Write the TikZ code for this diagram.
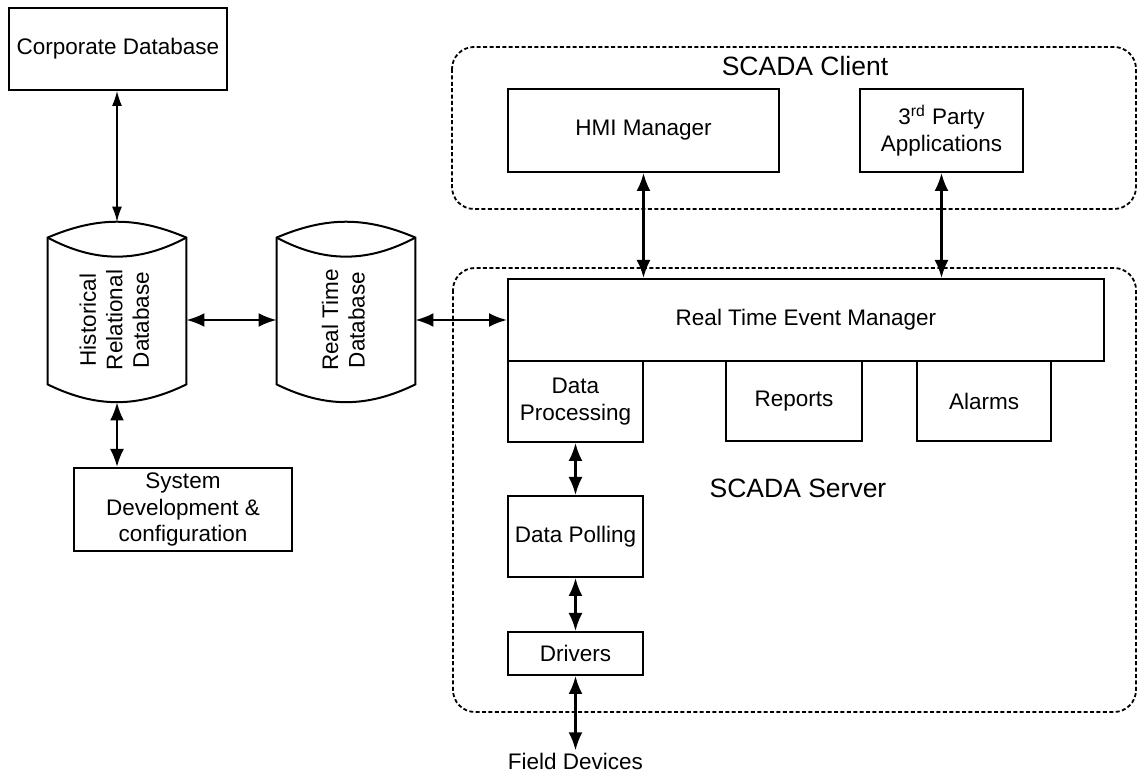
\documentclass[tikz,border=0pt]{standalone}
\usepackage{fontspec}
\setmainfont{Liberation Sans}
\usetikzlibrary{arrows.meta}
\newcommand{\dbcyl}[1]{%
  \draw[line width=1pt] (#1.north west) to[bend left=23] (#1.north east)
    -- ([yshift=9pt]#1.south east) to[bend left=26] ([yshift=9pt]#1.south west) -- cycle;
  \draw[line width=1pt] (#1.north west) to[bend right=28] (#1.north east);}

\begin{document}
\begin{tikzpicture}[x=0.5pt, y=-0.5pt,
    every node/.style={font=\fontsize{11.25}{13.25}\selectfont},
    box/.style={draw, line width=1pt, align=center, inner sep=0pt},
    dbnode/.style={inner sep=0pt, minimum width=69pt, minimum height=82pt},
    group/.style={line width=0.9pt, dash pattern=on 2pt off 1.2pt, rounded corners=11pt},
    title/.style={font=\fontsize{13.25}{16}\selectfont},
    thinarr/.style={{Latex[length=7.5pt,width=5pt]}-{Latex[length=7.5pt,width=5pt]}, line width=0.6pt},
    dbl/.style={{Latex[length=9pt,width=7pt]}-{Latex[length=9pt,width=7pt]}, line width=1.2pt}]
\useasboundingbox (0,0) rectangle (1137,774);
% Draw groups
\draw[group] (452,47) rectangle (1136,209);
\draw[group] (453,268) rectangle (1136,712);
\node[title] (clientlbl) at (805,66.5) {SCADA Client};
\node[title] (serverlbl) at (798,488.5) {SCADA Server};
% Draw databases
\node[dbnode] (hist) at (117,320) {\rotatebox{90}{\begin{tabular}{@{}c@{}}Historical\\Relational\\Database\end{tabular}}};
\node[dbnode] (rtdb) at (346,320) {\rotatebox{90}{\begin{tabular}{@{}c@{}}Real Time\\Database\end{tabular}}};
\dbcyl{hist}
\dbcyl{rtdb}
% Draw boxes
\node[box, minimum width=109pt, minimum height=41pt] (corp) at (118,49) {Corporate Database};
\node[box, minimum width=109pt, minimum height=41.5pt] (sysdev) at (183,509.5) {System\\Development \&\\configuration};
\node[box, minimum width=135.5pt, minimum height=41.5pt] (hmi) at (643.5,130.5) {HMI Manager};
\node[box, minimum width=81.5pt, minimum height=41.5pt] (third) at (941.5,130.5) {3\textsuperscript{rd} Party\\Applications};
\node[box, minimum width=298pt, minimum height=41pt] (rtem) at (806,320) {Real Time Event Manager};
\node[box, minimum width=67.5pt, minimum height=40.5pt] (dproc) at (575.5,401.5) {Data\\Processing};
\node[box, minimum width=68pt, minimum height=40pt] (reports) at (794,401) {Reports};
\node[box, minimum width=67pt, minimum height=40pt] (alarms) at (984,401) {Alarms};
\node[box, minimum width=67.5pt, minimum height=40.5pt] (poll) at (575.5,536.5) {Data Polling};
\node[box, minimum width=67.5pt, minimum height=21.5pt] (drv) at (575.5,653.5) {Drivers};
\node[inner sep=1pt] (field) at (575.5,761) {Field Devices};
% Draw connectors
\draw[thinarr] (corp.south -| hist) -- ([yshift=8pt]hist.north);
\draw[dbl] (hist) -- (rtdb);
\draw[dbl] (rtdb) -- (rtem);
\draw[dbl] (hist.south) -- (sysdev.north -| hist.south);
\draw[dbl] (hmi) -- (hmi |- rtem.north);
\draw[dbl] (third) -- (third |- rtem.north);
\foreach \a/\b in {dproc/poll, poll/drv, drv/field}
    \draw[dbl] (\a) -- (\b);
\end{tikzpicture}
\end{document}
